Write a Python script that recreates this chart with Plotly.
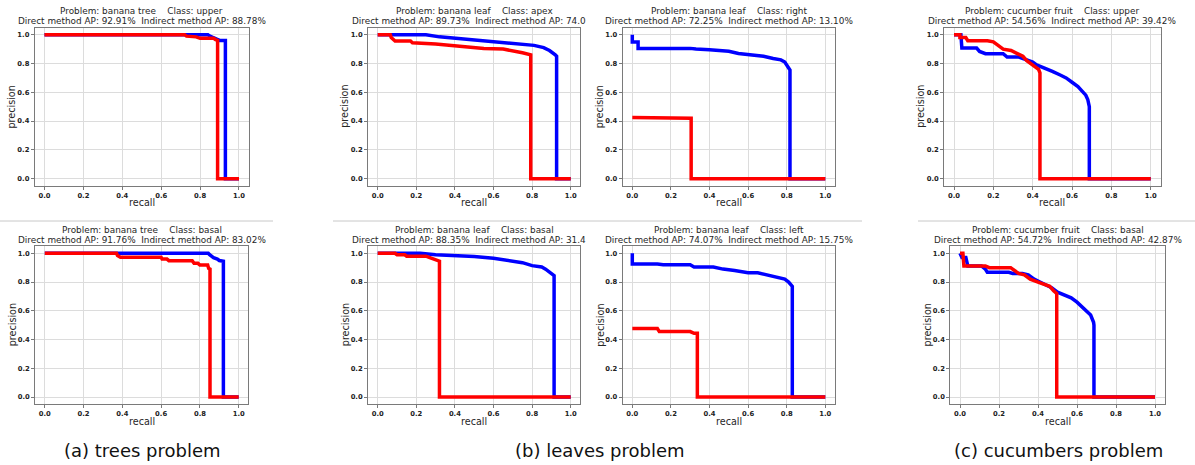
import plotly.graph_objects as go

# ---------------- data ----------------
problems = ["banana tree", "banana leaf", "banana leaf", "cucumber fruit",
            "banana tree", "banana leaf", "banana leaf", "cucumber fruit"]
classes = ["upper", "apex", "right", "upper", "basal", "basal", "left", "basal"]
direct_ap = ["92.91%", "89.73%", "72.25%", "54.56%", "91.76%", "88.35%", "74.07%", "54.72%"]
indirect_ap = ["88.78%", "74.0", "13.10%", "39.42%", "83.02%", "31.4", "15.75%", "42.87%"]
captions = ["(a) trees problem", "(b) leaves problem", "(c) cucumbers problem"]
tick_vals = [0.0, 0.2, 0.4, 0.6, 0.8, 1.0]
tick_text = ["0.0", "0.2", "0.4", "0.6", "0.8", "1.0"]

# tree upper
tree_upper_direct_r = [0.0, 0.84, 0.85, 0.87, 0.89, 0.90, 0.93, 0.93, 1.0]
tree_upper_direct_p = [1.0, 1.0, 0.99, 0.98, 0.97, 0.96, 0.96, 0.0, 0.0]
tree_upper_indirect_r = [0.0, 0.72, 0.73, 0.78, 0.80, 0.87, 0.88, 0.89, 0.89, 1.0]
tree_upper_indirect_p = [1.0, 1.0, 0.99, 0.985, 0.975, 0.975, 0.965, 0.96, 0.0, 0.0]

# leaf apex
leaf_apex_direct_r = [0.0, 0.25, 0.32, 0.41, 0.50, 0.58, 0.63, 0.72, 0.81, 0.86, 0.89, 0.92, 0.927, 0.927, 1.0]
leaf_apex_direct_p = [1.0, 1.0, 0.985, 0.975, 0.965, 0.956, 0.949, 0.942, 0.926, 0.91, 0.89, 0.86, 0.85, 0.0, 0.0]
leaf_apex_indirect_r = [0.0, 0.065, 0.07, 0.08, 0.09, 0.17, 0.18, 0.30, 0.40, 0.48, 0.55, 0.65, 0.70, 0.75, 0.793, 0.793, 1.0]
leaf_apex_indirect_p = [1.0, 1.0, 0.98, 0.97, 0.956, 0.956, 0.944, 0.935, 0.924, 0.912, 0.905, 0.9, 0.89, 0.875, 0.86, 0.0, 0.0]

# leaf right
leaf_right_direct_r = [0.0, 0.0, 0.03, 0.03, 0.30, 0.33, 0.40, 0.50, 0.55, 0.63, 0.68, 0.73, 0.77, 0.79, 0.805, 0.812, 0.817, 0.817, 1.0]
leaf_right_direct_p = [1.0, 0.95, 0.95, 0.905, 0.905, 0.9, 0.895, 0.885, 0.87, 0.86, 0.85, 0.835, 0.825, 0.81, 0.78, 0.765, 0.755, 0.0, 0.0]
leaf_right_indirect_r = [0.0, 0.26, 0.27, 0.305, 0.305, 1.0]
leaf_right_indirect_p = [0.425, 0.425, 0.42, 0.42, 0.0, 0.0]

# cucumber upper
cuc_upper_direct_r = [0.0, 0.035, 0.04, 0.115, 0.13, 0.16, 0.25, 0.27, 0.33, 0.36, 0.40, 0.42, 0.46, 0.50, 0.54, 0.57, 0.60, 0.63, 0.65, 0.67, 0.68, 0.688, 0.688, 1.0]
cuc_upper_direct_p = [1.0, 1.0, 0.907, 0.907, 0.884, 0.868, 0.868, 0.845, 0.845, 0.83, 0.81, 0.79, 0.77, 0.745, 0.72, 0.70, 0.67, 0.64, 0.61, 0.58, 0.55, 0.5, 0.0, 0.0]
cuc_upper_indirect_r = [0.0, 0.03, 0.03, 0.06, 0.07, 0.17, 0.20, 0.22, 0.25, 0.29, 0.32, 0.35, 0.37, 0.39, 0.41, 0.43, 0.437, 0.437, 1.0]
cuc_upper_indirect_p = [1.0, 1.0, 0.98, 0.98, 0.958, 0.958, 0.95, 0.93, 0.9, 0.89, 0.87, 0.85, 0.82, 0.8, 0.78, 0.76, 0.735, 0.0, 0.0]

# tree basal
tree_basal_direct_r = [0.0, 0.843, 0.85, 0.87, 0.89, 0.90, 0.921, 0.921, 1.0]
tree_basal_direct_p = [1.0, 1.0, 0.99, 0.97, 0.96, 0.95, 0.945, 0.0, 0.0]
tree_basal_indirect_r = [0.0, 0.37, 0.375, 0.39, 0.60, 0.605, 0.63, 0.64, 0.76, 0.77, 0.79, 0.80, 0.84, 0.845, 0.852, 0.852, 1.0]
tree_basal_indirect_p = [1.0, 1.0, 0.984, 0.972, 0.972, 0.96, 0.96, 0.949, 0.949, 0.93, 0.93, 0.918, 0.918, 0.895, 0.89, 0.0, 0.0]

# leaf basal
leaf_basal_direct_r = [0.0, 0.22, 0.30, 0.40, 0.50, 0.60, 0.70, 0.75, 0.80, 0.85, 0.87, 0.90, 0.914, 0.914, 1.0]
leaf_basal_direct_p = [1.0, 1.0, 0.99, 0.984, 0.977, 0.965, 0.949, 0.935, 0.914, 0.905, 0.89, 0.86, 0.845, 0.0, 0.0]
leaf_basal_indirect_r = [0.0, 0.09, 0.10, 0.14, 0.15, 0.25, 0.27, 0.30, 0.31, 0.32, 0.32, 1.0]
leaf_basal_indirect_p = [1.0, 1.0, 0.99, 0.99, 0.98, 0.98, 0.97, 0.954, 0.945, 0.945, 0.0, 0.0]

# leaf left
leaf_left_direct_r = [0.0, 0.0, 0.13, 0.16, 0.30, 0.32, 0.42, 0.47, 0.53, 0.58, 0.60, 0.65, 0.68, 0.72, 0.76, 0.79, 0.81, 0.823, 0.829, 0.829, 1.0]
leaf_left_direct_p = [1.0, 0.925, 0.925, 0.92, 0.92, 0.905, 0.905, 0.89, 0.88, 0.87, 0.865, 0.865, 0.855, 0.845, 0.83, 0.82, 0.80, 0.78, 0.77, 0.0, 0.0]
leaf_left_indirect_r = [0.0, 0.13, 0.14, 0.30, 0.32, 0.337, 0.337, 1.0]
leaf_left_indirect_p = [0.476, 0.476, 0.455, 0.455, 0.443, 0.443, 0.0, 0.0]

# cucumber basal
cuc_basal_direct_r = [0.0, 0.01, 0.03, 0.04, 0.11, 0.13, 0.14, 0.25, 0.27, 0.32, 0.35, 0.38, 0.41, 0.44, 0.47, 0.50, 0.53, 0.57, 0.60, 0.63, 0.65, 0.67, 0.685, 0.687, 0.687, 1.0]
cuc_basal_direct_p = [1.0, 0.97, 0.97, 0.912, 0.912, 0.89, 0.868, 0.868, 0.86, 0.86, 0.85, 0.82, 0.80, 0.78, 0.76, 0.73, 0.71, 0.69, 0.66, 0.62, 0.60, 0.57, 0.52, 0.50, 0.0, 0.0]
cuc_basal_indirect_r = [0.0, 0.015, 0.02, 0.13, 0.15, 0.26, 0.27, 0.30, 0.33, 0.36, 0.40, 0.44, 0.46, 0.48, 0.49, 0.496, 0.496, 1.0]
cuc_basal_indirect_p = [1.0, 1.0, 0.912, 0.912, 0.9, 0.9, 0.89, 0.86, 0.85, 0.82, 0.80, 0.78, 0.77, 0.74, 0.73, 0.72, 0.0, 0.0]

direct_curves = [
    (tree_upper_direct_r, tree_upper_direct_p), (leaf_apex_direct_r, leaf_apex_direct_p),
    (leaf_right_direct_r, leaf_right_direct_p), (cuc_upper_direct_r, cuc_upper_direct_p),
    (tree_basal_direct_r, tree_basal_direct_p), (leaf_basal_direct_r, leaf_basal_direct_p),
    (leaf_left_direct_r, leaf_left_direct_p), (cuc_basal_direct_r, cuc_basal_direct_p)]
indirect_curves = [
    (tree_upper_indirect_r, tree_upper_indirect_p), (leaf_apex_indirect_r, leaf_apex_indirect_p),
    (leaf_right_indirect_r, leaf_right_indirect_p), (cuc_upper_indirect_r, cuc_upper_indirect_p),
    (tree_basal_indirect_r, tree_basal_indirect_p), (leaf_basal_indirect_r, leaf_basal_indirect_p),
    (leaf_left_indirect_r, leaf_left_indirect_p), (cuc_basal_indirect_r, cuc_basal_indirect_p)]

# ---------------- layout geometry (pixels) ----------------
W, H = 1195, 465
cols_top = [(44.5, 239.0), (377.7, 570.7), (632.3, 825.3), (954.0, 1150.7)]
cols_bot = [(44.8, 238.7), (377.7, 570.7), (632.3, 825.3), (960.0, 1155.0)]
rows = [(34.7, 178.7), (253.3, 397.0)]   # pixel y of precision 1.0 and 0.0
title_y = [(10.7, 20.7), (230.3, 239.6)]
recall_y = [202.5, 421.5]

def fx(x):
    return x / W

def fy(y):
    return 1 - y / H

fig = go.Figure()
annotations = []
title_font = dict(family="DejaVu Sans", size=8.9, color="#262626")
label_font = dict(family="DejaVu Sans", size=9.6, color="#262626")
sp = "\u00a0"

for i in range(8):
    r = i // 4
    c = i % 4
    x0, x1 = (cols_top if r == 0 else cols_bot)[c]
    y1, y0 = rows[r]
    u = x1 - x0
    v = y0 - y1
    left, right = x0 - 0.05 * u, x1 + 0.05 * u
    top, bottom = y1 - 0.05 * v, y0 + 0.05 * v
    n = i + 1
    xa = "x" if n == 1 else f"x{n}"
    ya = "y" if n == 1 else f"y{n}"
    axis_common = dict(
        range=[-0.05, 1.05], tickvals=tick_vals, ticktext=tick_text,
        showgrid=True, gridcolor="#dcdcdc", gridwidth=1, zeroline=False,
        showline=True, mirror=True, linecolor="#7a7a7a", linewidth=1,
        ticks="outside", ticklen=3, tickcolor="#7a7a7a", tickwidth=1,
        tickfont=dict(family="DejaVu Sans", size=6.8, color="#222222", weight="bold"),
        fixedrange=True)
    fig.update_layout(**{
        ("xaxis" if n == 1 else f"xaxis{n}"): dict(domain=[fx(left), fx(right)], anchor=ya, **axis_common),
        ("yaxis" if n == 1 else f"yaxis{n}"): dict(domain=[fy(bottom), fy(top)], anchor=xa, **axis_common),
    })
    dr, dp = direct_curves[i]
    ir, ip = indirect_curves[i]
    fig.add_trace(go.Scatter(x=dr, y=dp, mode="lines", line=dict(color="#0000ff", width=3.5),
                             xaxis=xa, yaxis=ya, showlegend=False, hoverinfo="skip"))
    fig.add_trace(go.Scatter(x=ir, y=ip, mode="lines", line=dict(color="#ff0000", width=3.5),
                             xaxis=xa, yaxis=ya, showlegend=False, hoverinfo="skip"))
    cx = (left + right) / 2
    cy = (top + bottom) / 2
    line1 = f"Problem: {problems[i]}{sp*4}Class: {classes[i]}"
    line2 = f"Direct method AP: {direct_ap[i]}{sp*2}Indirect method AP: {indirect_ap[i]}"
    annotations.append(dict(x=fx(cx), y=fy(title_y[r][0]), xref="paper", yref="paper",
                            text=line1, showarrow=False, font=title_font,
                            xanchor="center", yanchor="middle"))
    if indirect_ap[i].endswith("%"):
        annotations.append(dict(x=fx(cx), y=fy(title_y[r][1]), xref="paper", yref="paper",
                                text=line2, showarrow=False, font=title_font,
                                xanchor="center", yanchor="middle"))
    else:
        annotations.append(dict(x=fx(cx - 124), y=fy(title_y[r][1]), xref="paper", yref="paper",
                                text=line2, showarrow=False, font=title_font,
                                xanchor="left", yanchor="middle"))
    annotations.append(dict(x=fx(cx), y=fy(recall_y[r]), xref="paper", yref="paper",
                            text="recall", showarrow=False, font=label_font,
                            xanchor="center", yanchor="middle"))
    annotations.append(dict(x=fx(left - 23), y=fy(cy), xref="paper", yref="paper",
                            text="precision", showarrow=False, font=label_font, textangle=-90,
                            xanchor="center", yanchor="middle"))

cap_x = [142.5, 600.0, 1058.0]
for k in range(3):
    annotations.append(dict(x=fx(cap_x[k]), y=fy(450), xref="paper", yref="paper",
                            text=captions[k], showarrow=False,
                            font=dict(family="DejaVu Sans", size=18, color="#111111"),
                            xanchor="center", yanchor="middle"))

shapes = []
for a, b in [(0, 273), (333, 862), (918, 1195)]:
    shapes.append(dict(type="line", xref="paper", yref="paper",
                       x0=fx(a), x1=fx(b), y0=fy(221), y1=fy(221),
                       line=dict(color="#c8c8c8", width=1)))

fig.update_layout(width=W, height=H, autosize=False,
                  margin=dict(l=0, r=0, t=0, b=0, pad=0),
                  paper_bgcolor="white", plot_bgcolor="white",
                  annotations=annotations, shapes=shapes)

fig.write_html("out.html", config={"displayModeBar": False},
               post_script="document.body.style.margin='0';document.body.style.overflow='hidden';")
